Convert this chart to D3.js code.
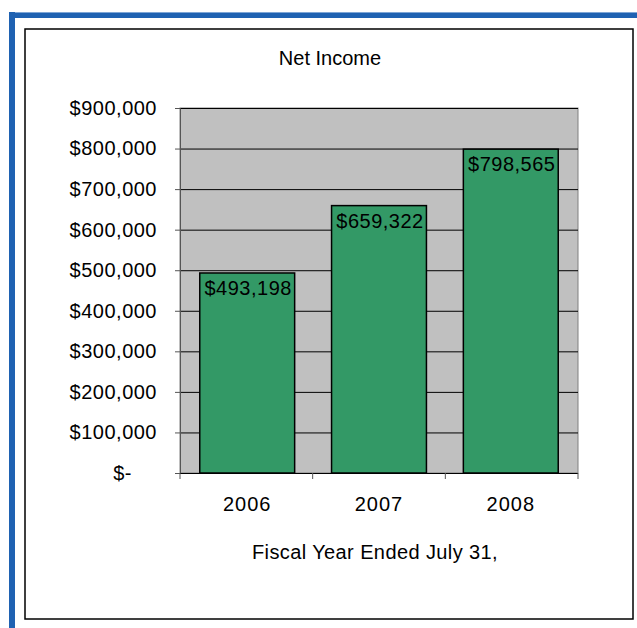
<!DOCTYPE html>
<html>
<head>
<meta charset="utf-8">
<script src="https://cdn.jsdelivr.net/npm/d3@7"></script>
<style>
  body { margin: 0; background: #fff; }
  text { font-family: "Liberation Sans", Arial, sans-serif; fill: #000; }
</style>
</head>
<body>
<svg id="chart"></svg>
<script>
// ---- data ----
const years = ['2006', '2007', '2008'];
const netIncome = [493198, 659322, 798565];
const yTicks = [0, 100000, 200000, 300000, 400000, 500000, 600000, 700000, 800000, 900000];
const chartTitle = 'Net Income';
const xTitle = 'Fiscal Year Ended July 31,';

const W = 637, H = 628;
const plot = {left: 180, right: 578, top: 108, bottom: 473};

const svg = d3.select('#chart').attr('width', W).attr('height', H);

// blue outer frame (only top and left are visible)
svg.append('rect').attr('x', 9).attr('y', 12).attr('width', W - 9).attr('height', 6).attr('fill', '#1f62b2');
svg.append('rect').attr('x', 9).attr('y', 12).attr('width', 6).attr('height', H - 12).attr('fill', '#1f62b2');
svg.append('rect').attr('x', 15).attr('y', 12).attr('width', W - 15).attr('height', 1).attr('fill', '#7fa6d6');

// inner chart border
svg.append('rect')
  .attr('x', 25).attr('y', 29)
  .attr('width', 608).attr('height', 590)
  .attr('fill', '#fff')
  .attr('stroke', '#000')
  .attr('stroke-width', 1.5);

// scales
const x = d3.scaleBand()
  .domain(years)
  .range([plot.left, plot.right])
  .paddingInner(0.28)
  .paddingOuter(0.15);

const y = d3.scaleLinear()
  .domain([0, 900000])
  .range([plot.bottom, plot.top]);

// plot background
svg.append('rect')
  .attr('x', plot.left).attr('y', plot.top)
  .attr('width', plot.right - plot.left).attr('height', plot.bottom - plot.top)
  .attr('fill', '#c0c0c0')
  .attr('stroke', '#808080')
  .attr('stroke-width', 1);

// gridlines
svg.append('g')
  .attr('transform', `translate(${plot.left},0)`)
  .call(d3.axisLeft(y).tickValues(yTicks.slice(1)).tickSize(-(plot.right - plot.left)).tickFormat(''))
  .call(g => g.select('.domain').remove())
  .call(g => g.selectAll('line').attr('stroke', '#000'));

// bars
svg.selectAll('.bar')
  .data(netIncome)
  .join('rect')
  .attr('class', 'bar')
  .attr('x', (d, i) => x(years[i]))
  .attr('y', d => y(d))
  .attr('width', x.bandwidth())
  .attr('height', d => y(0) - y(d))
  .attr('fill', '#339966')
  .attr('stroke', '#000')
  .attr('stroke-width', 1.5);

// bar labels
const money = d3.format('$,');
svg.selectAll('.bar-label')
  .data(netIncome)
  .join('text')
  .attr('class', 'bar-label')
  .attr('x', (d, i) => x(years[i]) + x.bandwidth() / 2 + 1)
  .attr('y', d => y(d) + 22)
  .attr('text-anchor', 'middle')
  .attr('font-size', 20)
  .attr('letter-spacing', 0.5)
  .text(d => money(d));

// y axis
const yAxis = svg.append('g')
  .attr('transform', `translate(${plot.left},0)`)
  .call(d3.axisLeft(y).tickValues(yTicks).tickSize(5).tickPadding(18)
    .tickFormat(d => d === 0 ? '$-' : money(d)));
yAxis.select('.domain').attr('stroke', '#555');
yAxis.selectAll('line').attr('stroke', '#555');
yAxis.selectAll('text')
  .attr('font-size', 20)
  .attr('letter-spacing', 0.5)
  .attr('font-family', '"Liberation Sans", Arial, sans-serif')
  .attr('fill', '#000')
  .attr('dx', d => d === 0 ? -25 : 0);

// x axis
const xAxis = svg.append('g')
  .attr('transform', `translate(0,${plot.bottom})`)
  .call(d3.axisBottom(x).tickSize(0).tickPadding(24));
xAxis.select('.domain').attr('stroke', '#000').attr('d', `M${plot.left},0.5H${plot.right}`);
xAxis.selectAll('text')
  .attr('font-size', 20)
  .attr('letter-spacing', 1)
  .attr('font-family', '"Liberation Sans", Arial, sans-serif')
  .attr('fill', '#000');

// category separator ticks
const sepX = d3.range(years.length + 1).map(i => plot.left + i * (plot.right - plot.left) / years.length);
svg.selectAll('.sep')
  .data(sepX)
  .join('line')
  .attr('class', 'sep')
  .attr('x1', d => d).attr('x2', d => d)
  .attr('y1', plot.bottom).attr('y2', plot.bottom + 6)
  .attr('stroke', '#555');

// titles
svg.append('text')
  .attr('x', 330).attr('y', 65)
  .attr('text-anchor', 'middle')
  .attr('font-size', 20)
  .text(chartTitle);

svg.append('text')
  .attr('x', (plot.left + plot.right) / 2 - 4).attr('y', 559)
  .attr('text-anchor', 'middle')
  .attr('font-size', 20)
  .attr('letter-spacing', 0.4)
  .text(xTitle);
</script>
</body>
</html>
